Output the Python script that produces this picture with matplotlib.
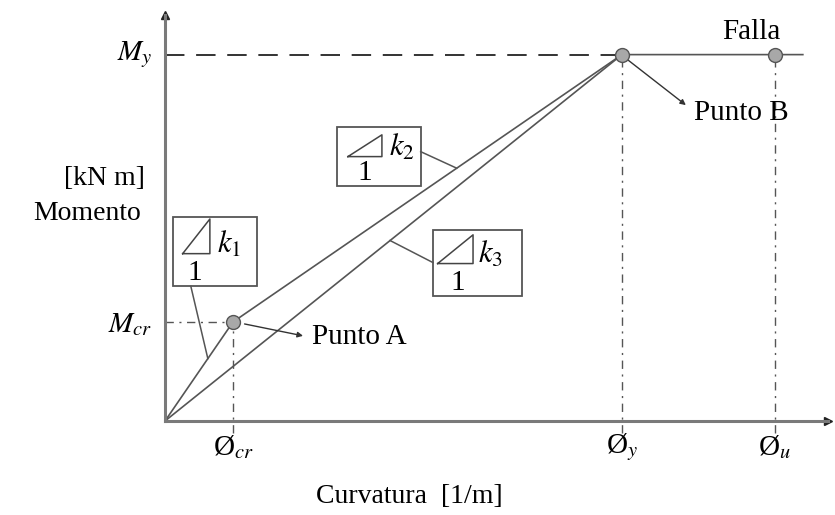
import matplotlib
matplotlib.use("Agg")
import matplotlib.pyplot as plt
from matplotlib.patches import Rectangle
import numpy as np

plt.rcParams['font.family'] = ['Liberation Serif', 'DejaVu Serif']
plt.rcParams['mathtext.fontset'] = 'stix'

# curvatura y momento (unidades relativas a la fisuracion)
phi_cr, phi_y, phi_u = 1.0, 6.72, 8.97
M_cr, M_y = 1.0, 3.70
phi_end = 9.38

# curva bilineal: origen -> A -> B -> falla
phi_bil = [0, phi_cr, phi_y, phi_end]
M_bil = [0, M_cr, M_y, M_y]
# secante origen -> B
phi_sec = [0, phi_y]
M_sec = [0, M_y]

fig = plt.figure(figsize=(8.35, 5.15), dpi=100)
ax = fig.add_axes([165 / 835, 94 / 515, 663 / 835, 406 / 515])
ax.set_xlim(0, 9.75)
ax.set_ylim(0, 4.10)
ax.set_xticks([])
ax.set_yticks([])
for s in ['top', 'right']:
    ax.spines[s].set_visible(False)
for s in ['left', 'bottom']:
    ax.spines[s].set_color('#7a7a7a')
    ax.spines[s].set_linewidth(2.2)
ax.plot(1, 0, '>', color='#222222', ms=6, transform=ax.transAxes, clip_on=False)
ax.plot(0, 1, '^', color='#222222', ms=6, transform=ax.transAxes, clip_on=False)

lc = '#555555'
# lineas de referencia
ax.plot([0, phi_y], [M_y, M_y], color='#333333', lw=1.4, dashes=(10, 6))
ax.plot([0, phi_cr], [M_cr, M_cr], color='#555555', lw=1.0, dashes=(6, 4, 1.5, 4))
for p, m in [(phi_cr, M_cr), (phi_y, M_y), (phi_u, M_y)]:
    ax.plot([p, p], [-0.12, m], color='#555555', lw=1.0, dashes=(6, 4, 1.5, 4),
            clip_on=False)

ax.plot(phi_bil, M_bil, color=lc, lw=1.2)
ax.plot(phi_sec, M_sec, color=lc, lw=1.2)
ax.plot([phi_cr, phi_y, phi_u], [M_cr, M_y, M_y], 'o', ms=10,
        mfc='#a8a8a8', mec='#555555', mew=1.0, zorder=5)

fs = 21
ax.text(-0.19, M_y, '$M_y$', fontsize=fs, ha='right', va='center')
ax.text(-0.19, M_cr - 0.03, '$M_{cr}$', fontsize=fs, ha='right', va='center')
ax.text(-0.29, 2.45, '[kN m]', fontsize=fs - 1, ha='right', va='center')
ax.text(-0.36, 2.10, 'Momento', fontsize=fs - 1, ha='right', va='center')
for p, s in [(phi_cr, 'cr'), (phi_y, 'y'), (phi_u, 'u')]:
    ax.text(p, -0.26, 'Ø$_{%s}$' % s, fontsize=fs, ha='center', va='center')
ax.text(3.6, -0.76, 'Curvatura  [1/m]', fontsize=fs - 1, ha='center', va='center')

ax.text(8.63, 3.93, 'Falla', fontsize=fs, ha='center', va='center')
ax.text(7.78, 3.11, 'Punto B', fontsize=fs, ha='left', va='center')
ax.text(2.16, 0.85, 'Punto A', fontsize=fs, ha='left', va='center')
ax.annotate('', xy=(7.66, 3.19), xytext=(phi_y + 0.08, M_y - 0.05),
            arrowprops=dict(arrowstyle='-|>', color='#333333', lw=1.0,
                            mutation_scale=8, shrinkA=0, shrinkB=0))
ax.annotate('', xy=(2.03, 0.86), xytext=(phi_cr + 0.17, M_cr - 0.02),
            arrowprops=dict(arrowstyle='-|>', color='#333333', lw=1.0,
                            mutation_scale=8, shrinkA=0, shrinkB=0))


def slope_box(x0, y0, x1, y1, tri, one, klab, k):
    ax.add_patch(Rectangle((x0, y0), x1 - x0, y1 - y0, fill=False,
                           ec='#555555', lw=1.3))
    tx = [tri[0], tri[2], tri[2], tri[0]]
    ty = [tri[1], tri[1], tri[3], tri[1]]
    ax.plot(tx, ty, color='#444444', lw=1.1)
    ax.text(one[0], one[1], '1', fontsize=fs, ha='center', va='center')
    ax.text(klab[0], klab[1], '$k_%d$' % k, fontsize=fs + 1, ha='left', va='center')


slope_box(0.12, 1.36, 1.35, 2.06, (0.26, 1.69, 0.66, 2.04), (0.44, 1.49), (0.76, 1.78), 1)
slope_box(2.53, 2.37, 3.76, 2.97, (2.69, 2.67, 3.19, 2.89), (2.94, 2.50), (3.30, 2.76), 2)
slope_box(3.94, 1.26, 5.25, 1.93, (4.01, 1.59, 4.53, 1.88), (4.31, 1.39), (4.61, 1.68), 3)

# lineas guia hacia cada tramo
x1 = 0.63
ax.plot([0.38, x1], [1.36, np.interp(x1, phi_bil, M_bil)], color=lc, lw=1.1)
x2 = 4.29
ax.plot([3.76, x2], [2.72, np.interp(x2, phi_bil, M_bil)], color=lc, lw=1.1)
x3 = 3.31
ax.plot([3.94, x3], [1.60, np.interp(x3, phi_sec, M_sec)], color=lc, lw=1.1)

fig.savefig('out.png', dpi=100)
